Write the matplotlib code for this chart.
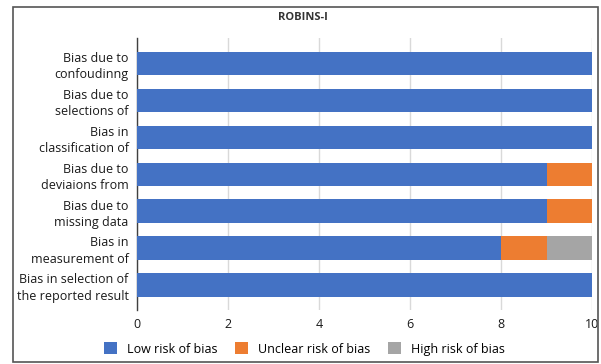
import numpy as np
import matplotlib.pyplot as plt
from matplotlib.patches import Rectangle

# ROBINS-I domains (top to bottom)
domains = [
    "Bias due to\nconfoudinng",
    "Bias due to\nselections of",
    "Bias in\nclassification of",
    "Bias due to\ndeviaions from",
    "Bias due to\nmissing data",
    "Bias in\nmeasurement of",
    "Bias in selection of\nthe reported result",
]
low_risk = [10, 10, 10, 9, 9, 8, 10]
unclear_risk = [0, 0, 0, 1, 1, 1, 0]
high_risk = [0, 0, 0, 0, 0, 1, 0]

series_names = ["Low risk of bias", "Unclear risk of bias", "High risk of bias"]
colors = ["#4472C4", "#ED7D31", "#A5A5A5"]

plt.rcParams['font.family'] = ['Open Sans', 'DejaVu Sans']

W, H = 601, 364
fig = plt.figure(figsize=(W / 100, H / 100), dpi=100)
ax = fig.add_axes([137 / W, 1 - 310 / H, (592 - 137) / W, (310 - 38) / H])

y = np.arange(len(domains))
left = np.zeros(len(domains))
for vals, name, c in zip([low_risk, unclear_risk, high_risk], series_names, colors):
    ax.barh(y, vals, left=left, height=0.63, color=c, label=name, zorder=3)
    left += np.array(vals)

ax.set_ylim(len(domains) - 1 + 0.68, -0.69)
ax.set_xlim(0, 10)
ax.set_xticks([0, 2, 4, 6, 8, 10])
ax.set_yticks(y)
ax.set_yticklabels(domains, fontsize=9, color="#1a1a1a", linespacing=1.35)
ax.tick_params(axis='x', labelsize=9, colors="#1a1a1a", length=0, pad=6)
ax.tick_params(axis='y', length=0, pad=6)
ax.grid(axis='x', color="#D9D9D9", linewidth=1, zorder=0)
for s in ['top', 'right', 'bottom']:
    ax.spines[s].set_visible(False)
ax.spines['left'].set_color("#404040")
ax.spines['left'].set_linewidth(1)

fig.text(303 / W, 1 - 18 / H, "ROBINS-I", ha='center', va='center',
         fontsize=8, fontweight='bold', color="#333333")

handles, labels = ax.get_legend_handles_labels()
fig.legend(handles, labels, loc='center', bbox_to_anchor=(304 / W, 1 - 349 / H),
           ncol=3, frameon=False, fontsize=9, handlelength=1.05, handleheight=1.05,
           columnspacing=1.4, handletextpad=0.8)

fig.patches.append(Rectangle((13 / W, 1 - 362 / H), (598 - 13) / W, (362 - 7) / H,
                             transform=fig.transFigure, fill=False,
                             edgecolor="#555555", linewidth=1.2))

fig.savefig("out.png", dpi=100)
